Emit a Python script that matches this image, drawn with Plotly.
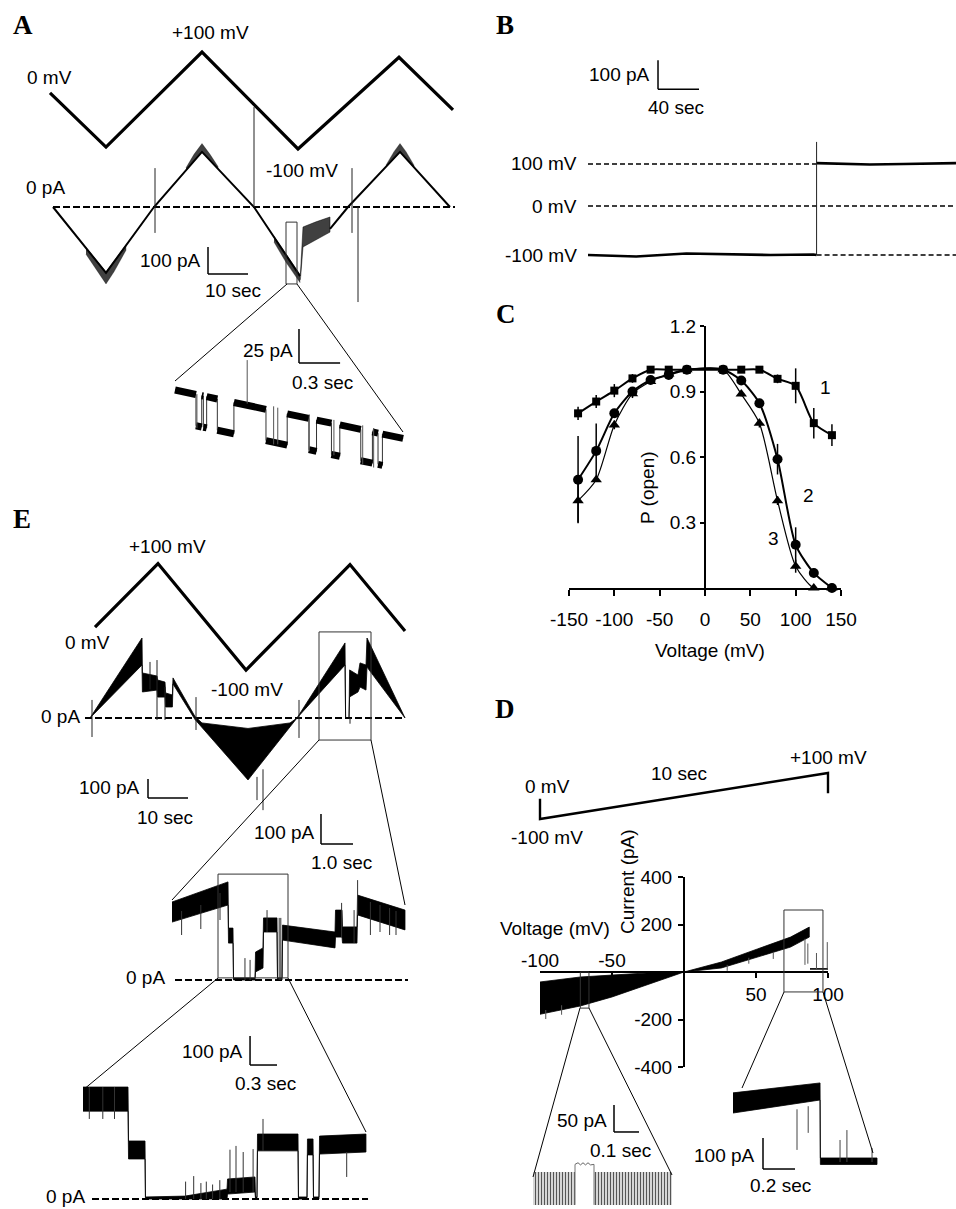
import plotly.graph_objects as go

W, H = 956, 1209
FONT = "Liberation Sans, Arial, Helvetica, sans-serif"
SERIF = "Liberation Serif, Times New Roman, serif"
FS = 19

# ====================== DATA ======================
# ---- Panel A : triangular voltage ramps and current ----
A_volt_t = [0, 14, 38, 62, 87.25, 100.75]          # s
A_volt_mV = [15, -99, 101, -103, 90, -21]          # mV
A_cur1_t = [0.75, 14, 26, 38, 51, 62.5]            # s
A_cur1_pA = [0, -244, 0, 204, 0, -256]             # pA
A_cur2_t = [70, 74.5, 87.5, 100]
A_cur2_pA = [-81, 0, 204, 0]
A_jump_t = [62.6, 63.25, 66.5, 70]
A_jump_hi = [-250, -74, -55, -37]
A_jump_lo = [-270, -148, -120, -93]
A_trough_t = [9, 12, 14, 16, 19]
A_trough_hi = [-150, -205, -240, -200, -140]
A_trough_lo = [-175, -240, -285, -240, -160]
A_peak1_t = [34, 36, 38, 40, 42]
A_peak1_hi = [145, 195, 235, 195, 150]
A_peak1_lo = [136, 170, 204, 173, 141]
A_peak2_t = [84, 86, 87.5, 89, 91]
A_peak2_hi = [155, 205, 235, 205, 155]
A_peak2_lo = [149, 180, 204, 180, 147]
A_fall_t = [56, 59, 62.5]
A_fall_hi = [-108, -175, -250]
A_fall_lo = [-130, -205, -280]
A_spike_t = [26.25, 51, 75.5, 77]
A_spike_hi = [144, 370, 144, 0]
A_spike_lo = [-96, 0, -96, -352]
A_zero_t = [0.75, 101.25]
A_box_t = [59, 61.75]
A_box_pA = [-56, -285]
# A inset (single channel closures)
A_in_t = [0, 0.153, 0.153, 0.195, 0.195, 0.207, 0.207, 0.231, 0.231, 0.309, 0.309, 0.430,
          0.430, 0.664, 0.664, 0.819, 0.819, 0.977, 0.977, 1.033, 1.033, 1.142, 1.142, 1.203,
          1.203, 1.356, 1.356, 1.441, 1.441, 1.482, 1.482, 1.514, 1.514, 1.665]
A_in_pA = [0, -3.3, -26.3, -27.2, -4.2, -4.4, -27.4, -27.9, -4.9, -6.6, -29.6, -32.2,
           -9.2, -14.2, -37.2, -40.5, -17.5, -20.9, -43.9, -45.1, -22.1, -24.4, -47.4, -48.7,
           -25.7, -29.0, -52.0, -53.8, -30.8, -31.7, -54.7, -55.4, -32.4, -35.6]
A_in_spike_t = [0.527, 0.16, 0.72, 0.75, 0.98, 1.16, 1.37, 1.45]
A_in_spike_hi = [22, -3, -12, -13, -18, -22, -26, -28]
A_in_spike_lo = [-10, -28, -40, -40, -45, -48, -55, -57]

# ---- Panel B ----
B_pre_t = [0, 47, 96, 126, 178, 220, 223]
B_pre_pA = [0, -5, 5, 3, 0, 2, 0]
B_post_t = [223, 275, 308, 359]
B_post_pA = [3, -2, 0, 3]
B_switch_t = 223
B_end_t = 359
B_rows = ["100 mV", "0 mV", "-100 mV"]

# ---- Panel C : P(open) vs voltage ----
C_V = [-140, -120, -100, -80, -60, -40, -20, 20, 40, 60, 80, 100, 120, 140]
C_P1 = [0.80, 0.854, 0.904, 0.96, 1.0, 1.0, 1.0, 1.0, 1.0, 1.0, 0.958, 0.926, 0.755, 0.70]
C_E1 = [0.03, 0.03, 0.03, 0.02, 0, 0, 0, 0, 0, 0, 0.02, 0.08, 0.07, 0.05]
C_P2 = [0.496, 0.628, 0.80, 0.90, 0.953, 0.976, 1.0, 1.0, 0.95, 0.846, 0.59, 0.198, 0.069, 0.0]
C_E2 = [0.2, 0.125, 0.02, 0.02, 0.01, 0, 0, 0, 0, 0.02, 0.07, 0.08, 0.02, 0]
C_P3 = [0.40, 0.496, 0.747, 0.89, 0.946, 0.98, 1.0, 1.0, 0.888, 0.755, 0.40, 0.10, 0.0, 0.0]
C_E3 = [0.1, 0.0, 0.02, 0.02, 0.01, 0, 0, 0, 0.01, 0.02, 0.02, 0.03, 0, 0]
C_xticks = [-150, -100, -50, 0, 50, 100, 150]
C_yticks = [0.3, 0.6, 0.9, 1.2]

# ---- Panel D : ramp and I-V ----
D_ramp_t = [0, 0, 10, 10]
D_ramp_mV = [-12, -100, 100, 12]
D_top_V = [-100, -72, -50, -26, 0, 26, 51, 74, 87]
D_top_pA = [-42, -21, -13, -4, 0, 42, 97, 147, 189]
D_bot_V = [-100, -72, -50, -26, 0, 26, 51, 74, 87]
D_bot_pA = [-178, -143, -105, -55, 0, 17, 63, 105, 147]
D_tail_V = [87.5, 100]
D_tail_pA = [13, 13]
D_spk_V = [84, 86, 92, 99.5, 30, 45, 62, -96, -85]
D_spk_hi = [140, 120, 80, 126, 30, 60, 85, -160, -140]
D_spk_lo = [30, 35, 13, 13, 5, 35, 55, -198, -180]
D_boxL_V = [-72, -66]
D_boxL_pA = [0, -152]
D_boxR_V = [69.4, 96.5]
D_boxR_pA = [261, -84]
D_xticks_neg = [-100, -50]
D_xticks_pos = [50, 100]
D_yticks = [-400, -200, 200, 400]
# D left inset
D_L_open1_t = [0, 0.168]
D_L_open2_t = [0.244, 0.556]
D_L_open_hi = -11
D_L_open_lo = -72
D_L_closed_t = [0.168, 0.18, 0.19, 0.2, 0.21, 0.22, 0.23, 0.244]
D_L_closed_pA = [3, 6, 2, 6, 2, 6, 2, 3]
# D right inset
D_R_hi_t = [0, 0.544, 0.546, 0.9]
D_R_hi_pA = [223, 255, 13, 13]
D_R_lo_t = [0, 0.544, 0.546, 0.9]
D_R_lo_pA = [158, 200, -8, -8]
D_R_spk_t = [0.4, 0.47, 0.669, 0.712, 0.869]
D_R_spk_hi = [170, 180, 71, 103, 45]
D_R_spk_lo = [39, 94, 0, 0, 0]

# ---- Panel E ----
E_volt_t = [1.25, 17, 39, 65, 78.75]
E_volt_mV = [-20, 99, -100, 97, -27]
E_top_t = [0, 13, 13.1, 16.75, 16.9, 18.75, 18.9, 20.6, 20.75, 26.25, 28, 39.5, 50, 51.75,
           63.75, 63.9, 64.75, 64.9, 67, 67.5, 69, 69.25, 78.75]
E_top_pA = [0, 421, 237, 221, 200, 189, 132, 121, 211, 8, -26, -55, -26, 0,
            395, 0, 0, 253, 226, 290, 279, 421, 0]
E_bot_t = [0, 13, 13.1, 16.75, 16.9, 18.75, 18.9, 20.6, 20.75, 26.25, 39.5, 51.75,
           63.75, 63.9, 64.75, 64.9, 67, 67.5, 69, 69.25, 78.75]
E_bot_pA = [0, 279, 137, 147, 110, 110, 58, 58, 179, -8, -326, 0,
            279, 0, 0, 111, 137, 163, 147, 268, 0]
E_spk_t = [0.5, 15, 16.75, 18.75, 26.5, 52.25, 41.75, 43.25, 65]
E_spk_hi = [95, 295, 305, 163, 110, 95, -310, -270, 0]
E_spk_lo = [-100, 150, -10, -10, -63, -105, -432, -485, -30]
E_zero_t = [-1.25, 78.75]
E_box_t = [57.25, 70.25]
E_box_pA = [453, -116]
# E middle
E2_top_t = [0, 1.75, 1.766, 1.906, 1.922, 2.594, 2.61, 2.844, 2.86, 3.281, 3.297, 3.438,
            3.453, 5.094, 5.11, 5.313, 5.328, 5.781, 5.797, 7.281]
E2_top_pA = [260, 327, 173, 173, 7, 7, 93, 107, 207, 207, 7, 7,
             183, 160, 233, 233, 177, 177, 283, 233]
E2_bot_pA = [193, 250, 123, 123, 0, 0, 27, 40, 160, 160, 0, 0,
             133, 107, 143, 143, 123, 123, 217, 167]
E2_spk_t = [0.3, 0.9, 1.5, 2.28, 2.44, 2.97, 3.35, 3.4, 5.3, 5.69, 5.8, 6.2, 6.5, 6.8, 7.0]
E2_spk_hi = [230, 250, 290, 73, 67, 233, 207, 207, 257, 233, 333, 260, 250, 240, 230]
E2_spk_lo = [150, 170, 200, 0, 0, 160, 0, 0, 143, 123, 217, 150, 160, 150, 150]
E2_zero_t = [0.094, 7.375]
E2_box_t = [1.4375, 3.625]
E2_box_pA = [353, 7]
# E bottom
E3_top_t = [0, 0.5, 0.506, 0.689, 0.694, 1.133, 1.6, 1.606, 1.911, 1.917, 1.933, 1.939,
            2.389, 2.394, 2.489, 2.494, 2.556, 2.561, 2.622, 2.628, 3.144]
E3_top_pA = [386, 386, 200, 200, 7, 10, 34, 69, 76, 7, 7, 224,
             224, 7, 7, 207, 207, 7, 7, 217, 224]
E3_bot_pA = [303, 303, 138, 138, 0, 0, 0, 17, 24, 0, 0, 166,
             166, 0, 0, 152, 152, 0, 0, 155, 162]
E3_spk_t = [0.07, 0.22, 0.35, 1.14, 1.23, 1.31, 1.37, 1.44, 1.52, 1.633, 1.7, 1.78, 1.89, 2.0, 2.93]
E3_spk_hi = [386, 386, 386, 60, 79, 55, 60, 50, 65, 170, 183, 162, 172, 276, 162]
E3_spk_lo = [276, 276, 276, 0, 0, 0, 0, 0, 0, 24, 24, 24, 24, 166, 76]
E3_zero_t = [0.1, 3.167]

# ====================== FIGURE ======================
fig = go.Figure()
lay = {}
shapes = []
annotations = []
n_axes = [0]


def axes(xpx, ypx, x0, sx, y0, sy):
    """hidden axis pair covering pixel box xpx,ypx; data x=(px-x0)/sx, y=(y0-py)/sy"""
    n_axes[0] += 1
    n = n_axes[0]
    s = "" if n == 1 else str(n)
    lay["xaxis" + s] = dict(domain=[xpx[0] / W, xpx[1] / W],
                            range=[(xpx[0] - x0) / sx, (xpx[1] - x0) / sx],
                            visible=False, anchor="y" + s, fixedrange=True, automargin=False)
    lay["yaxis" + s] = dict(domain=[1 - ypx[1] / H, 1 - ypx[0] / H],
                            range=[(y0 - ypx[1]) / sy, (y0 - ypx[0]) / sy],
                            visible=False, anchor="x" + s, fixedrange=True, automargin=False)
    return ("x" + s, "y" + s)


def line(ax, x, y, w=2.0, color="black", dash=None, shape="linear"):
    fig.add_trace(go.Scatter(x=list(x), y=list(y), mode="lines", xaxis=ax[0], yaxis=ax[1],
                             line=dict(color=color, width=w, dash=dash, shape=shape),
                             hoverinfo="skip", showlegend=False, cliponaxis=False))


def band(ax, t_hi, hi, t_lo, lo, color="black", w=0.8, pattern=None):
    kw = {}
    if pattern is not None:
        kw["fillpattern"] = pattern
    fig.add_trace(go.Scatter(x=list(t_hi) + list(t_lo)[::-1], y=list(hi) + list(lo)[::-1],
                             mode="lines", fill="toself", fillcolor=color,
                             line=dict(color=color if pattern is None else "rgba(0,0,0,0.6)", width=w),
                             xaxis=ax[0], yaxis=ax[1],
                             hoverinfo="skip", showlegend=False, cliponaxis=False, **kw))


NOISE = dict(shape="|", fgcolor="black", bgcolor="rgba(0,0,0,0)", size=2, solidity=0.75)
NOISE_GRAY = dict(shape="|", fgcolor="#555", bgcolor="rgba(0,0,0,0)", size=3, solidity=0.5)


def spikes(ax, ts, his, los, w=1.0, color="black"):
    xs, ys = [], []
    for t, a, b in zip(ts, his, los):
        xs += [t, t, None]
        ys += [a, b, None]
    line(ax, xs, ys, w, color)


def steps(ax, t, y, wflat=6.0, wedge=1.0):
    """step trace: thin transitions, thick (noisy-looking) flat parts"""
    line(ax, t, y, wedge, "#333")
    xs, ys = [], []
    for i in range(len(t) - 1):
        if t[i + 1] != t[i]:
            xs += [t[i], t[i + 1], None]
            ys += [y[i], y[i + 1], None]
    line(ax, xs, ys, wflat)


def seg_px(x1, y1, x2, y2, w=1.0, color="black"):
    shapes.append(dict(type="line", xref="paper", yref="paper", x0=x1 / W, y0=1 - y1 / H,
                       x1=x2 / W, y1=1 - y2 / H, line=dict(color=color, width=w)))


def rect(ax, xs, ys, w=1.0, color="#333"):
    shapes.append(dict(type="rect", xref=ax[0], yref=ax[1], x0=xs[0], x1=xs[1], y0=ys[0], y1=ys[1],
                       line=dict(color=color, width=w), fillcolor="rgba(0,0,0,0)"))


def scalebar(ax, t, i, dt, di, w=1.5):
    shapes.append(dict(type="line", xref=ax[0], yref=ax[1], x0=t, x1=t, y0=i, y1=i + di,
                       line=dict(color="black", width=w)))
    shapes.append(dict(type="line", xref=ax[0], yref=ax[1], x0=t, x1=t + dt, y0=i, y1=i,
                       line=dict(color="black", width=w)))


def text(s, x, y, anchor="center", size=FS, family=FONT, angle=0):
    annotations.append(dict(text=s, x=x / W, y=1 - y / H, xref="paper", yref="paper",
                            xanchor=anchor, yanchor="middle", showarrow=False, textangle=angle,
                            font=dict(size=size, family=family, color="black")))


def letter(s, x, y):
    text("<b>%s</b>" % s, x, y, anchor="left", size=27, family=SERIF)


def hyph(v):
    return "%g" % v


# ---------------- Panel A ----------------
axAv = axes((40, 470), (40, 160), 50, 4.0, 100, 0.475)
axAi = axes((40, 470), (95, 320), 50, 4.0, 207, 0.27)
axAin = axes((165, 415), (320, 480), 175, 137.0, 390, 1.36)

line(axAv, A_volt_t, A_volt_mV, 3.2)
line(axAi, A_zero_t, [0, 0], 2.2, dash="7px,3px")
line(axAi, A_cur1_t, A_cur1_pA, 2.0)
line(axAi, A_cur2_t, A_cur2_pA, 2.0)
band(axAi, A_jump_t, A_jump_hi, A_jump_t, A_jump_lo, "rgba(0,0,0,0)", 0.8, NOISE)
band(axAi, A_trough_t, A_trough_hi, A_trough_t, A_trough_lo, "rgba(0,0,0,0)", 0.5, NOISE)
band(axAi, A_peak1_t, A_peak1_hi, A_peak1_t, A_peak1_lo, "rgba(0,0,0,0)", 0.5, NOISE)
band(axAi, A_peak2_t, A_peak2_hi, A_peak2_t, A_peak2_lo, "rgba(0,0,0,0)", 0.5, NOISE)
band(axAi, A_fall_t, A_fall_hi, A_fall_t, A_fall_lo, "rgba(0,0,0,0)", 0.5, NOISE)
spikes(axAi, A_spike_t, A_spike_hi, A_spike_lo, 1.0, "#222")
rect(axAi, A_box_t, A_box_pA)
scalebar(axAi, 39.5, -248, 10, 100)

steps(axAin, A_in_t, A_in_pA, 7.0, 1.0)
spikes(axAin, A_in_spike_t, A_in_spike_hi, A_in_spike_lo, 1.0, "#555")
scalebar(axAin, 0.905, 19.9, 0.3, 25)
seg_px(287, 284, 175, 381)
seg_px(297, 284, 403, 432)

letter("A", 11, 25)
text("+100 mV", 210, 32)
text("0 mV", 49, 77)
text("-100 mV", 302, 170)
text("0 pA", 45, 187)
text("100 pA", 203, 260, "right")
text("10 sec", 233, 290)
text("25 pA", 295, 350, "right")
text("0.3 sec", 322, 382)

# ---------------- Panel B ----------------
axB = axes((585, 956), (50, 270), 588, 1.025, 206, 0.29)
B_off = {"100 mV": 145, "0 mV": 0, "-100 mV": -169}
line(axB, [0, B_switch_t], [B_off["100 mV"]] * 2, 1.6, dash="5px,3px")
line(axB, [0, B_end_t], [B_off["0 mV"]] * 2, 1.6, dash="5px,3px")
line(axB, [B_switch_t, B_end_t], [B_off["-100 mV"]] * 2, 1.6, dash="5px,3px")
line(axB, B_pre_t, [v + B_off["-100 mV"] for v in B_pre_pA], 2.6)
line(axB, B_post_t, [v + B_off["100 mV"] for v in B_post_pA], 2.6)
spikes(axB, [B_switch_t], [221], [B_off["-100 mV"]], 1.0, "#222")
scalebar(axB, 68.3, 403, 40, 100)
letter("B", 494, 25)
text("100 pA", 652, 74, "right")
text("40 sec", 676, 107)
for lab, yy in zip(B_rows, [164, 206, 255]):
    text(lab, 579, yy, "right")

# ---------------- Panel C ----------------
n_axes[0] += 1
cN = str(n_axes[0])
tickfont = dict(size=FS, family=FONT, color="black")
lay["xaxis" + cN] = dict(domain=[569 / W, 841 / W], range=[-150, 150], anchor="y" + cN,
                         showline=True, linewidth=2, linecolor="black", ticks="outside",
                         ticklen=6, tickwidth=2, tickcolor="black", tickvals=C_xticks,
                         ticktext=[hyph(v) for v in C_xticks], tickangle=0,
                         showgrid=False, zeroline=False, tickfont=tickfont,
                         ticklabelstandoff=7, fixedrange=True, automargin=False)
lay["yaxis" + cN] = dict(domain=[1 - 588 / H, 1 - 326 / H], range=[0, 1.2], anchor="free",
                         position=705 / W, showline=True, linewidth=2, linecolor="black",
                         ticks="outside", ticklen=4, tickwidth=2, tickcolor="black",
                         tickvals=C_yticks, ticktext=["%.1f" % v for v in C_yticks],
                         showgrid=False, zeroline=False, tickfont=tickfont, fixedrange=True,
                         automargin=False)
axC = ("x" + cN, "y" + cN)
for P, E, sym, lw, ms in [(C_P3, C_E3, "triangle-up", 1.2, 10),
                          (C_P2, C_E2, "circle", 2.0, 10),
                          (C_P1, C_E1, "square", 2.0, 8)]:
    fig.add_trace(go.Scatter(x=C_V, y=P, mode="lines+markers", xaxis=axC[0], yaxis=axC[1],
                             line=dict(color="black", width=lw, shape="spline", smoothing=0.7),
                             marker=dict(symbol=sym, size=ms, color="black"),
                             error_y=dict(type="data", array=E, visible=True, thickness=1.5,
                                          width=0, color="black"),
                             hoverinfo="skip", showlegend=False, cliponaxis=False))
letter("C", 494, 314)
text("P (open)", 647, 488, angle=-90)
text("Voltage (mV)", 710, 650)
text("1", 825, 388)
text("2", 808, 495)
text("3", 773, 538)

# ---------------- Panel D ----------------
axDr = axes((530, 840), (760, 830), 540, 28.8, 796, 0.23)
line(axDr, D_ramp_t, D_ramp_mV, 2.4)
letter("D", 493, 709)
text("0 mV", 547, 786)
text("-100 mV", 547, 837)
text("10 sec", 679, 773)
text("+100 mV", 828, 757)

n_axes[0] += 1
dX = str(n_axes[0])
n_axes[0] += 1
dX2 = str(n_axes[0])
lay["xaxis" + dX] = dict(domain=[540 / W, 828 / W], range=[-100, 100], anchor="free",
                         position=1 - 972 / H, side="bottom", showline=True, linewidth=2,
                         linecolor="black", ticks="outside", ticklen=5, tickwidth=2,
                         tickcolor="black", tickvals=D_xticks_pos,
                         ticktext=[hyph(v) for v in D_xticks_pos], tickangle=0, showgrid=False,
                         zeroline=False, tickfont=tickfont, ticklabelstandoff=0, fixedrange=True,
                         automargin=False)
lay["yaxis" + dX] = dict(domain=[1 - 1067 / H, 1 - 877 / H], range=[-400, 400], anchor="free",
                         position=684 / W, showline=True, linewidth=2, linecolor="black",
                         ticks="outside", ticklen=5, tickwidth=2, tickcolor="black",
                         tickvals=D_yticks, ticktext=[hyph(v) for v in D_yticks],
                         showgrid=False, zeroline=False, tickfont=tickfont,
                         ticklabelstandoff=2, fixedrange=True, automargin=False)
lay["xaxis" + dX2] = dict(overlaying="x" + dX, range=[-100, 100], anchor="free",
                          position=1 - 972 / H, side="top", showline=False, ticks="inside",
                          ticklen=5, tickwidth=2, tickcolor="black", tickvals=D_xticks_neg,
                          ticktext=[hyph(v) for v in D_xticks_neg], tickangle=0,
                          showgrid=False, zeroline=False, tickfont=tickfont,
                          ticklabelstandoff=1, fixedrange=True, automargin=False)
lay["yaxis" + dX2] = dict(domain=[1 - 1067 / H, 1 - 877 / H], range=[-400, 400], anchor="x" + dX2,
                          visible=False, fixedrange=True, automargin=False)
axD = ("x" + dX, "y" + dX)
fig.add_trace(go.Scatter(x=[0], y=[0], mode="markers", marker=dict(opacity=0), xaxis="x" + dX2,
                         yaxis="y" + dX2, hoverinfo="skip", showlegend=False))
band(axD, D_top_V, D_top_pA, D_bot_V, D_bot_pA)
line(axD, D_tail_V, D_tail_pA, 1.6)
spikes(axD, D_spk_V, D_spk_hi, D_spk_lo, 1.0, "#555")
rect(axD, D_boxL_V, D_boxL_pA)
rect(axD, D_boxR_V, D_boxR_pA)
text("Voltage (mV)", 555, 928)
text("Current (pA)", 627, 882, angle=-90)

axDL = axes((525, 680), (1100, 1209), 533, 250.0, 1166, 0.54)
band(axDL, D_L_open1_t, [D_L_open_hi] * 2, D_L_open1_t, [D_L_open_lo] * 2,
     "rgba(0,0,0,0)", 0, NOISE_GRAY)
band(axDL, D_L_open2_t, [D_L_open_hi] * 2, D_L_open2_t, [D_L_open_lo] * 2,
     "rgba(0,0,0,0)", 0, NOISE_GRAY)
line(axDL, D_L_closed_t, D_L_closed_pA, 1.0, "#666")
spikes(axDL, [D_L_closed_t[0], D_L_closed_t[-1]], [3, 3], [D_L_open_lo, D_L_open_lo], 1.0, "#777")
scalebar(axDL, 0.324, 63, 0.1, 50)
text("50 pA", 609, 1120, "right")
text("0.1 sec", 620, 1150)

axDR = axes((725, 885), (1075, 1200), 733, 160.0, 1162, 0.31)
band(axDR, D_R_hi_t, D_R_hi_pA, D_R_lo_t, D_R_lo_pA)
spikes(axDR, D_R_spk_t, D_R_spk_hi, D_R_spk_lo, 1.0, "#444")
scalebar(axDR, 0.1875, -22.6, 0.2, 100)
text("100 pA", 757, 1155, "right")
text("0.2 sec", 780, 1185)

seg_px(580, 1008, 533, 1177)
seg_px(589, 1008, 672, 1175)
seg_px(784, 992, 742, 1088)
seg_px(823, 992, 873, 1153)

# ---------------- Panel E ----------------
axEv = axes((80, 420), (540, 690), 90, 4.0, 616.5, 0.535)
axEi = axes((80, 420), (600, 820), 90, 4.0, 718, 0.19)
line(axEv, E_volt_t, E_volt_mV, 3.2)
line(axEi, E_zero_t, [0, 0], 2.2, dash="7px,3px")
band(axEi, E_top_t, E_top_pA, E_bot_t, E_bot_pA)
spikes(axEi, E_spk_t, E_spk_hi, E_spk_lo, 1.0, "#222")
rect(axEi, E_box_t, E_box_pA)
scalebar(axEi, 14.5, -421, 10, 100)
letter("E", 11, 519)
text("+100 mV", 167, 546)
text("0 mV", 87, 642)
text("-100 mV", 247, 689)
text("0 pA", 82, 716, "right")
text("100 pA", 142, 787, "right")
text("10 sec", 165, 817)

axE2 = axes((160, 420), (800, 990), 172, 32.0, 980, 0.3)
line(axE2, E2_zero_t, [0, 0], 2.2, dash="7px,3px")
band(axE2, E2_top_t, E2_top_pA, E2_top_t, E2_bot_pA)
spikes(axE2, E2_spk_t, E2_spk_hi, E2_spk_lo, 1.0, "#333")
rect(axE2, E2_box_t, E2_box_pA)
scalebar(axE2, 4.656, 453, 1.0, 100)
text("100 pA", 317, 832, "right")
text("1.0 sec", 341, 862)
text("0 pA", 167, 977, "right")
seg_px(319, 740, 172, 900)
seg_px(371, 740, 405, 905)

axE3 = axes((75, 380), (1020, 1209), 83, 90.0, 1199, 0.29)
line(axE3, E3_zero_t, [0, 0], 2.2, dash="7px,3px")
band(axE3, E3_top_t, E3_top_pA, E3_top_t, E3_bot_pA)
spikes(axE3, E3_spk_t, E3_spk_hi, E3_spk_lo, 1.0, "#333")
scalebar(axE3, 1.856, 462, 0.3, 100)
text("100 pA", 245, 1051, "right")
text("0.3 sec", 265, 1083)
text("0 pA", 87, 1196, "right")
seg_px(218, 978, 83, 1090)
seg_px(288, 978, 366, 1132)

fig.update_layout(**lay)
fig.update_layout(template="none", width=W, height=H, margin=dict(l=0, r=0, t=0, b=0, pad=0),
                  autosize=False, paper_bgcolor="white", plot_bgcolor="rgba(0,0,0,0)",
                  shapes=shapes, annotations=annotations, showlegend=False,
                  font=dict(family=FONT, size=FS, color="black"))
fig.write_html("out.html", config={"displayModeBar": False, "responsive": False})
